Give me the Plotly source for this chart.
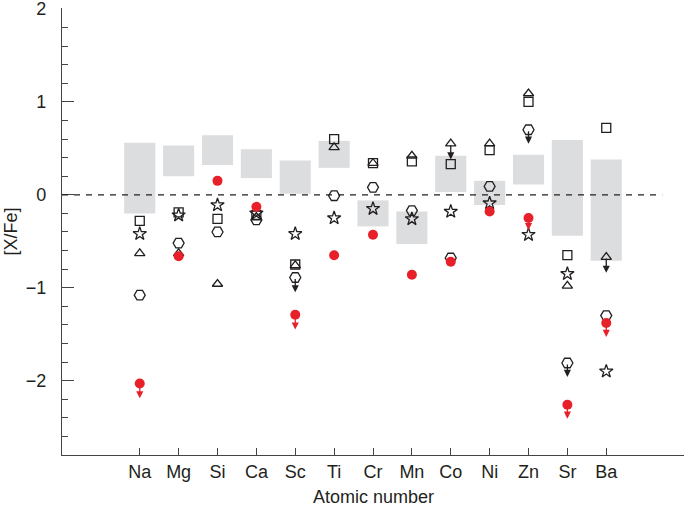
import plotly.graph_objects as go

categories = ["Na", "Mg", "Si", "Ca", "Sc", "Ti", "Cr", "Mn", "Co", "Ni", "Zn", "Sr", "Ba"]

band_low = [-0.20, 0.20, 0.32, 0.18, 0.01, 0.29, -0.34, -0.53, 0.03, -0.11, 0.11, -0.44, -0.71]
band_high = [0.56, 0.53, 0.64, 0.49, 0.37, 0.58, -0.06, -0.18, 0.42, 0.15, 0.43, 0.59, 0.38]

square_vals = [-0.28, -0.19, -0.26, -0.22, -0.75, 0.60, 0.34, 0.36, 0.33, 0.48, 1.00, -0.65, 0.72]
star_vals = [-0.42, -0.22, -0.11, -0.20, -0.42, -0.25, -0.15, -0.26, -0.18, -0.09, -0.43, -0.85, -1.90]
triangle_vals = [-0.63, -0.63, -0.96, -0.24, -0.76, 0.51, 0.34, 0.42, 0.55, 0.55, 1.09, -0.98, -0.67]
hexagon_vals = [-1.08, -0.52, -0.40, -0.27, -0.89, -0.01, 0.08, -0.17, -0.68, 0.09, 0.70, -1.81, -1.30]
red_vals = [-2.03, -0.66, 0.15, -0.13, -1.29, -0.65, -0.43, -0.86, -0.72, -0.18, -0.25, -2.26, -1.38]

# upper limits: (category, series, arrow tip value)
upper_limits = [
    ("Na", "red", -2.19),
    ("Sc", "hexagon", -1.05),
    ("Sc", "red", -1.45),
    ("Co", "triangle", 0.38),
    ("Zn", "hexagon", 0.55),
    ("Zn", "red", -0.38),
    ("Sr", "hexagon", -1.96),
    ("Sr", "red", -2.41),
    ("Ba", "triangle", -0.84),
    ("Ba", "red", -1.53),
]

y_tick_vals = [-2, -1, 0, 1, 2]
y_tick_text = ["\u22122", "\u22121", "0", "1", "2"]

INK = "#231f20"
RED = "#e8202a"
GRAY = "#dcdddf"
AXIS = "#444444"
FONT = "Liberation Sans, Arial, Helvetica, sans-serif"
FS = 18

xs = list(range(len(categories)))
series = {
    "square": square_vals,
    "star": star_vals,
    "triangle": triangle_vals,
    "hexagon": hexagon_vals,
    "red": red_vals,
}

fig = go.Figure()

fig.add_trace(go.Bar(
    x=xs,
    y=[h - l for l, h in zip(band_low, band_high)],
    base=band_low,
    width=0.8,
    marker=dict(color=GRAY, line=dict(width=0)),
    showlegend=False,
    hoverinfo="skip",
))

open_style = [
    ("square", "square-open", 9),
    ("triangle", "triangle-up-open", 9),
    ("hexagon", "hexagon2-open", 11),
    ("star", "star-open", 10),
]
for key, sym, size in open_style:
    fig.add_trace(go.Scatter(
        x=xs, y=series[key], mode="markers",
        marker=dict(symbol=sym, size=size, color=INK, line=dict(color=INK, width=1.3)),
        showlegend=False,
    ))

fig.add_trace(go.Scatter(
    x=xs, y=red_vals, mode="markers",
    marker=dict(symbol="circle", size=10, color=RED, line=dict(width=0)),
    showlegend=False,
))

annotations = []
for cat, key, tip in upper_limits:
    i = categories.index(cat)
    col = RED if key == "red" else INK
    annotations.append(dict(
        x=i, y=tip, ax=i, ay=series[key][i],
        xref="x", yref="y", axref="x", ayref="y",
        showarrow=True, arrowhead=2, arrowsize=1.1, arrowwidth=1.3,
        arrowcolor=col, text="", standoff=0, startstandoff=0,
    ))

annotations.append(dict(
    text="[X/Fe]", xref="paper", yref="paper", x=-0.082, y=0.5,
    textangle=-90, showarrow=False, xanchor="center", yanchor="middle",
    font=dict(family=FONT, size=FS, color=INK),
))
annotations.append(dict(
    text="Atomic number", xref="paper", yref="paper", x=0.5, y=-0.094,
    showarrow=False, xanchor="center", yanchor="middle",
    font=dict(family=FONT, size=FS, color=INK),
))

fig.update_layout(
    width=685, height=509,
    margin=dict(l=62, r=1, t=8, b=54),
    paper_bgcolor="white", plot_bgcolor="white",
    barmode="overlay",
    font=dict(family=FONT, size=FS, color=INK),
    annotations=annotations,
    shapes=[dict(
        type="line", xref="paper", yref="y", x0=0.0, x1=0.965, y0=0, y1=0,
        line=dict(color=INK, width=1.3, dash="6px,6px"), layer="above",
    )],
    xaxis=dict(
        range=[-2, 14], tickvals=xs, ticktext=categories,
        showline=True, linecolor=AXIS, linewidth=1.3,
        ticks="inside", ticklen=7, tickwidth=1.3, tickcolor=AXIS,
        showgrid=False, zeroline=False, ticklabelstandoff=0,
        automargin=False,
    ),
    yaxis=dict(
        range=[-2.8, 2.01], tickvals=y_tick_vals, ticktext=y_tick_text,
        showline=True, linecolor=AXIS, linewidth=1.3,
        ticks="inside", ticklen=12, tickwidth=1.3, tickcolor=AXIS,
        minor=dict(dtick=0.2, tick0=0, ticks="inside", ticklen=6, tickwidth=1.3, tickcolor=AXIS),
        showgrid=False, zeroline=False, ticklabelstandoff=11,
        ticklabeloverflow="allow",
        automargin=False,
    ),
)

fig.write_html(
    "out.html",
    config={"displayModeBar": False},
    post_script="document.body.style.margin='0';",
)
